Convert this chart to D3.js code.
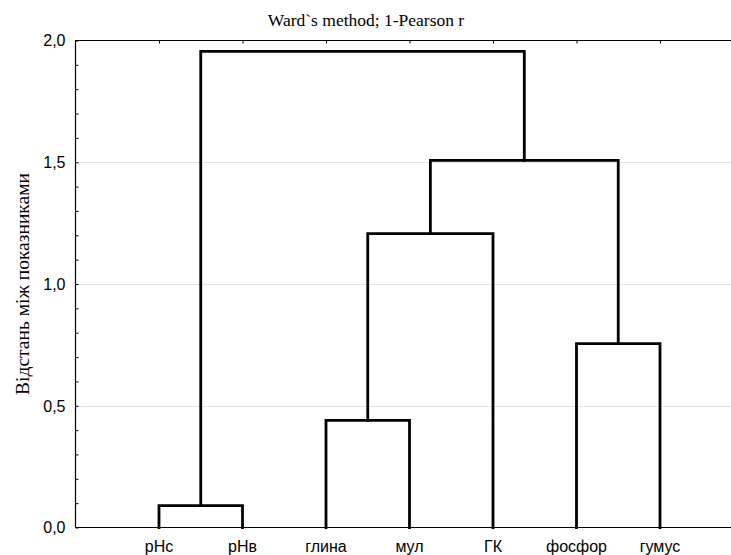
<!DOCTYPE html>
<html lang="uk">
	<head>
		<meta charset="utf-8">
		<title>Ward`s method; 1-Pearson r</title>
		<script src="https://d3js.org/d3.v7.min.js"></script>
		<style type="text/css">
			body { margin: 0; background: #fff; }
			.tick-label { font-family: "Liberation Sans", Arial, sans-serif; font-size: 16px; fill: #000; }
			.serif { font-family: "Liberation Serif", "Times New Roman", serif; fill: #000; }
		</style>
	</head>
	<body>
		<div id="chart"></div>
		<script type="text/javascript">

			// leaves, in dendrogram order
			var leaves = ["рНс", "рНв", "глина", "мул", "ГК", "фосфор", "гумус"];

			// linkage: node ids 0..6 are leaves, each merge creates node 7, 8, ...
			var mergeLeft   = [0, 2, 8, 5, 9, 7];
			var mergeRight  = [1, 3, 4, 6, 10, 11];
			var mergeHeight = [0.09, 0.44, 1.207, 0.755, 1.508, 1.955];

			var yTicks = [0, 0.5, 1.0, 1.5, 2.0];
			var gridTicks = [0.5, 1.0, 1.5];

			var W = 731, H = 555;
			var margin = {top: 40.5, left: 75.5, bottom: 27.5};
			var height = H - margin.top - margin.bottom;

			var x = d3.scaleLinear()
				.domain([0, leaves.length + 1])
				.range([margin.left, margin.left + 668]);

			var y = d3.scaleLinear()
				.domain([0, 2])
				.range([margin.top + height, margin.top]);

			var svg = d3.select("#chart").append("svg")
				.attr("width", W)
				.attr("height", H);

			// gridlines
			svg.append("g").selectAll("line")
				.data(gridTicks)
				.enter().append("line")
				.attr("x1", margin.left).attr("x2", W)
				.attr("y1", function (d) { return Math.round(y(d)) + 0.5; })
				.attr("y2", function (d) { return Math.round(y(d)) + 0.5; })
				.attr("stroke", "#c8c8c8")
				.attr("stroke-width", 1)
				.attr("stroke-dasharray", "1,1");

			// left axis (ticks drawn inward, minor every 0.1)
			var yAxis = d3.axisRight(y)
				.ticks(20)
				.tickSize(3)
				.tickFormat("");
			svg.append("g")
				.attr("transform", "translate(" + margin.left + ",0)")
				.call(yAxis)
				.call(function (g) { g.select(".domain").remove(); })
				.selectAll("line").attr("stroke", "#000");

			svg.append("g").selectAll("text")
				.data(yTicks)
				.enter().append("text")
				.attr("class", "tick-label")
				.attr("x", margin.left - 10)
				.attr("y", function (d) { return y(d); })
				.attr("dy", "0.36em")
				.attr("text-anchor", "end")
				.text(function (d) { return d3.format(".1f")(d).replace(".", ","); });

			// top axis with ticks at leaf positions
			var xTop = d3.axisBottom(x)
				.tickValues(d3.range(1, leaves.length + 1))
				.tickSize(3)
				.tickFormat("");
			svg.append("g")
				.attr("transform", "translate(0," + margin.top + ")")
				.call(xTop)
				.call(function (g) { g.select(".domain").remove(); })
				.selectAll("line").attr("stroke", "#000");

			// frame
			svg.append("line")
				.attr("x1", margin.left).attr("x2", W)
				.attr("y1", margin.top).attr("y2", margin.top)
				.attr("stroke", "#000").attr("stroke-width", 1.2);
			svg.append("line")
				.attr("x1", margin.left).attr("x2", W)
				.attr("y1", y(0)).attr("y2", y(0))
				.attr("stroke", "#000").attr("stroke-width", 1.2);
			svg.append("line")
				.attr("x1", margin.left).attr("x2", margin.left)
				.attr("y1", margin.top).attr("y2", y(0))
				.attr("stroke", "#000").attr("stroke-width", 1.2);

			// leaf labels
			svg.append("g").selectAll("text")
				.data(leaves)
				.enter().append("text")
				.attr("class", "tick-label")
				.attr("x", function (d, i) { return x(i + 1); })
				.attr("y", 552)
				.attr("text-anchor", "middle")
				.text(function (d) { return d; });

			// dendrogram
			var nodeX = leaves.map(function (d, i) { return x(i + 1); });
			var nodeY = leaves.map(function () { return y(0); });
			var paths = [];
			mergeLeft.forEach(function (l, k) {
				var r = mergeRight[k];
				var hy = y(mergeHeight[k]);
				paths.push([[nodeX[l], nodeY[l]], [nodeX[l], hy], [nodeX[r], hy], [nodeX[r], nodeY[r]]]);
				nodeX.push((nodeX[l] + nodeX[r]) / 2);
				nodeY.push(hy);
			});

			svg.append("g").selectAll("path")
				.data(paths)
				.enter().append("path")
				.attr("d", d3.line())
				.attr("fill", "none")
				.attr("stroke", "#000")
				.attr("stroke-width", 2.8)
				.attr("stroke-linejoin", "miter")
				.attr("stroke-linecap", "square");

			// title and y label
			svg.append("text")
				.attr("class", "serif")
				.attr("x", 366)
				.attr("y", 26)
				.attr("text-anchor", "middle")
				.style("font-size", "17.5px")
				.text("Ward`s method; 1-Pearson r");

			svg.append("text")
				.attr("class", "serif")
				.attr("transform", "translate(29," + (margin.top + height / 2) + ") rotate(-90)")
				.attr("text-anchor", "middle")
				.style("font-size", "19.5px")
				.text("Відстань між показниками");

		</script>
	</body>
</html>
